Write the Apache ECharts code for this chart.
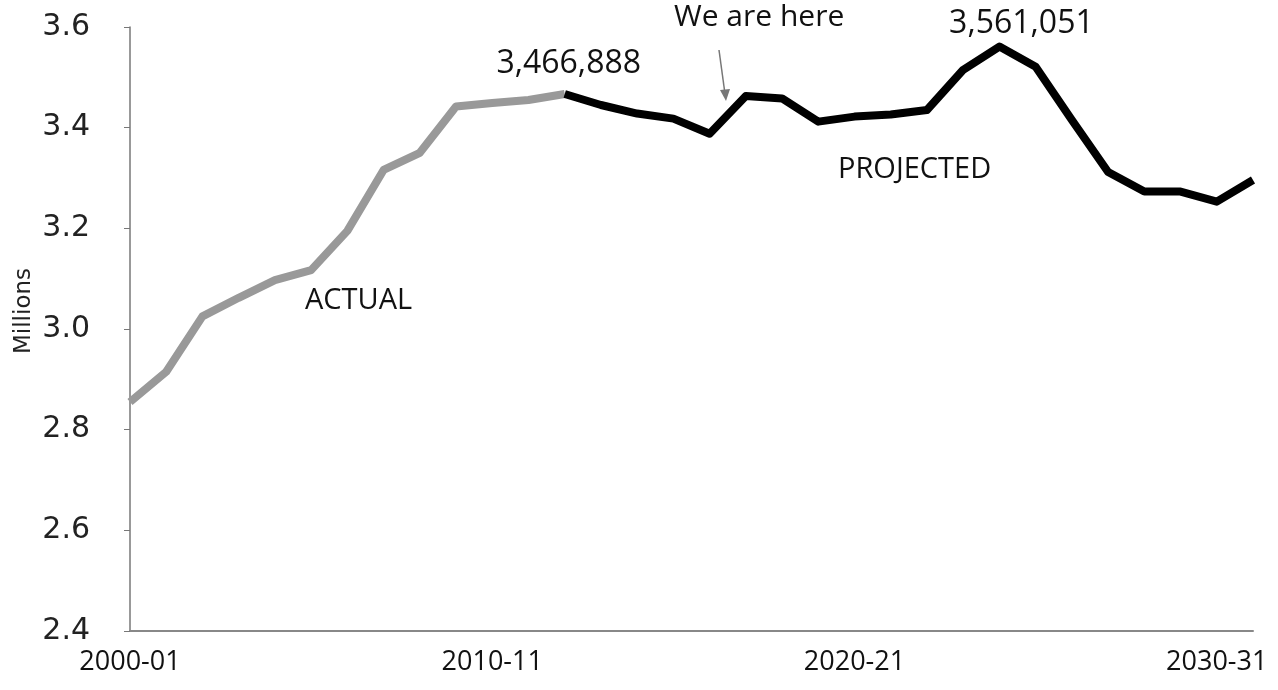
<!DOCTYPE html>
<html>
<head>
<meta charset="utf-8">
<script src="https://cdn.jsdelivr.net/npm/echarts@6/dist/echarts.min.js"></script>
<style>
  html, body { margin: 0; padding: 0; background: #fff; }
  #chart { width: 1278px; height: 690px; }
</style>
</head>
<body>
<div id="chart"></div>
<script>
const years = [
  '2000-01', '2001-02', '2002-03', '2003-04', '2004-05', '2005-06', '2006-07', '2007-08',
  '2008-09', '2009-10', '2010-11', '2011-12', '2012-13', '2013-14', '2014-15', '2015-16',
  '2016-17', '2017-18', '2018-19', '2019-20', '2020-21', '2021-22', '2022-23', '2023-24',
  '2024-25', '2025-26', '2026-27', '2027-28', '2028-29', '2029-30', '2030-31', '2031-32'
]

// millions; null where the other series takes over
const actual = [
  2.855, 2.915, 3.025, 3.062, 3.097, 3.117, 3.195, 3.316, 3.35, 3.442, 3.449, 3.455, 3.466888,
  null, null, null, null, null, null, null, null, null, null, null, null, null, null, null, null, null, null, null
]
const projected = [
  null, null, null, null, null, null, null, null, null, null, null, null, 3.466888,
  3.445, 3.428, 3.418, 3.388, 3.463, 3.458, 3.412, 3.422, 3.426, 3.435, 3.515, 3.561051,
  3.521, 3.415, 3.312, 3.273, 3.273, 3.253, 3.296
]
const labelled = [12, 24] // points that carry their exact value
const labelShift = { 12: [4, 0], 24: [22, 7] }

const yTicks = { min: 2.4, max: 3.6, step: 0.2 }

const chart = echarts.init(document.getElementById('chart'))

const fmtCount = v => Math.round(v * 1e6).toLocaleString('en-US')

const withLabels = (arr, show) => arr.map((v, i) => {
  if (v == null || !show || !labelled.includes(i)) return v
  return {
    value: v,
    label: {
      show: true,
      position: 'top',
      distance: 14,
      offset: labelShift[i],
      formatter: p => fmtCount(p.value),
      fontFamily: '"Open Sans", sans-serif',
      fontSize: 32,
      color: '#111'
    }
  }
})

const textStyle = { fontFamily: '"Open Sans", sans-serif', fontSize: 29, fill: '#111' }

const option = {
  animation: false,
  grid: { left: 130, right: 25, top: 27, bottom: 59 },
  xAxis: {
    type: 'category',
    data: years,
    boundaryGap: false,
    axisLine: { lineStyle: { color: '#888', width: 2 } },
    axisTick: { show: false },
    axisLabel: {
      interval: 9,
      margin: 18,
      fontFamily: '"Open Sans", sans-serif',
      fontSize: 27,
      color: '#111'
    }
  },
  yAxis: {
    type: 'value',
    min: yTicks.min,
    max: yTicks.max,
    interval: yTicks.step,
    axisLine: { show: true, lineStyle: { color: '#777', width: 1.5 } },
    axisTick: { show: true, length: 6, lineStyle: { color: '#777' } },
    splitLine: { show: false },
    axisLabel: {
      margin: 40,
      formatter: v => v.toFixed(1),
      fontFamily: '"DejaVu Sans", sans-serif',
      fontSize: 30,
      color: '#222'
    }
  },
  series: [
    {
      name: 'Actual',
      type: 'line',
      data: withLabels(actual, false),
      showSymbol: true,
      symbol: 'circle',
      symbolSize: 0,
      lineStyle: { color: '#999', width: 8, join: 'round' },
      z: 2
    },
    {
      name: 'Projected',
      type: 'line',
      data: withLabels(projected, true),
      showSymbol: true,
      symbol: 'circle',
      symbolSize: 0,
      lineStyle: { color: '#000', width: 8, join: 'round' },
      z: 3
    }
  ],
  graphic: [
    {
      type: 'text', x: 24, y: 311, rotation: Math.PI / 2,
      style: {
        text: 'Millions', fontFamily: '"DejaVu Sans", sans-serif', fontSize: 23, fill: '#222',
        align: 'center', verticalAlign: 'middle'
      }
    },
    { type: 'text', left: 305, top: 286, style: Object.assign({ text: 'ACTUAL' }, textStyle) },
    { type: 'text', left: 838, top: 155, style: Object.assign({ text: 'PROJECTED' }, textStyle) },
    { type: 'text', left: 674, top: 2, style: Object.assign({ text: 'We are here' }, textStyle, { fontSize: 30 }) },
    {
      type: 'line',
      shape: { x1: 719, y1: 50, x2: 725, y2: 94 },
      style: { stroke: '#777', lineWidth: 1.5 }
    },
    {
      type: 'polygon',
      shape: { points: [[720, 90], [730, 89], [726, 101]] },
      style: { fill: '#777' }
    }
  ]
}

chart.setOption(option)
</script>
</body>
</html>
